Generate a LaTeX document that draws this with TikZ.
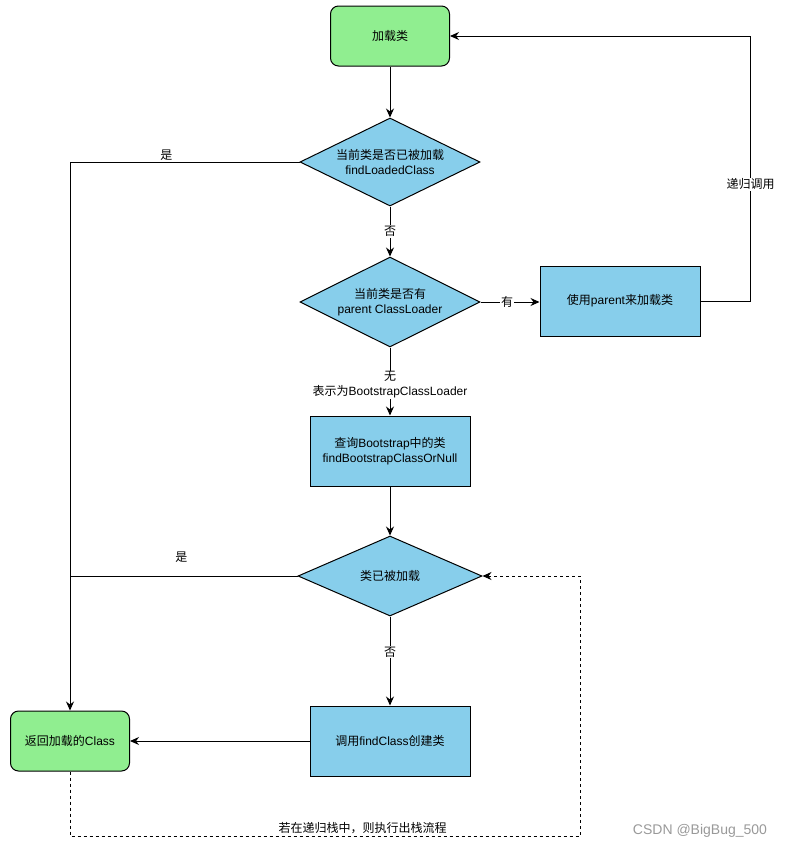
\documentclass[tikz,border=0pt]{standalone}
\usepackage{fontspec}
\setmainfont{Liberation Sans}
\newfontfamily\cjk{Noto Sans CJK SC}
\newcommand{\zh}[1]{{\cjk #1}}
\usetikzlibrary{shapes.geometric,arrows.meta}

\definecolor{boxgreen}{HTML}{90EE90}
\definecolor{boxblue}{HTML}{87CEEB}

\tikzset{
  terminal/.style={rectangle, rounded corners=8pt, draw, line width=1pt, fill=boxgreen, minimum width=119pt, minimum height=60pt, font=\fontsize{12}{15}\selectfont},
  process/.style={rectangle, draw, line width=1pt, fill=boxblue, minimum width=160pt, minimum height=70pt, align=center, font=\fontsize{12}{15}\selectfont},
  decision/.style={diamond, aspect=2, inner sep=0pt, draw, line width=1pt, fill=boxblue, minimum width=180pt, minimum height=88pt, align=center, font=\fontsize{12}{15}\selectfont},
  arrow/.style={-{Stealth[length=9pt,width=8pt]}, line width=1pt},
  lbl/.style={fill=white, inner sep=1pt, align=center, font=\fontsize{12}{15}\selectfont}
}

\begin{document}
\begin{tikzpicture}[x=1pt, y=-1pt]
\useasboundingbox (0,0) rectangle (788,849);

\node (start) at (390,36) [terminal]{\zh{加载类}};
\node (loaded) at (390,162) [decision]{\zh{当前类是否已被加载}\\findLoadedClass};
\node (hasparent) at (390,302) [decision, minimum height=90pt]{\zh{当前类是否有}\\parent ClassLoader};
\node (useparent) at (620,301) [process]{\zh{使用}parent\zh{来加载类}};
\node (bootstrap) at (390,451) [process]{\zh{查询}Bootstrap\zh{中的类}\\findBootstrapClassOrNull};
\node (found) at (390,576) [decision, minimum width=184pt, minimum height=80pt]{\zh{类已被加载}};
\node (findclass) at (390,741) [process]{\zh{调用}findClass\zh{创建类}};
\node (result) at (70,741) [terminal]{\zh{返回加载的}Class};
\coordinate (back) at (580,836);

\draw[arrow] (start) -- (loaded);
\draw[arrow] (loaded) -- node[lbl]{\zh{否}} (hasparent);
\draw[arrow] (hasparent.east) -- node[lbl, pos=0.45]{\zh{有}} (hasparent.east -| useparent.west);
\draw[arrow] (hasparent) -- node[lbl, pos=0.55]{\zh{无}\\\zh{表示为}BootstrapClassLoader} (bootstrap);
\draw[arrow] (bootstrap) -- (found);
\draw[arrow] (found) -- node[lbl, pos=0.4]{\zh{否}} (findclass);
\draw[arrow] (findclass) -- (result);
\draw[arrow] (loaded.west) -| node[lbl, pos=0.29, above=0pt, fill=none]{\zh{是}} (result.north);
\draw[line width=1pt] (found.west) -- node[lbl, pos=0.51, above=12pt, fill=none]{\zh{是}} (found.west -| result.north);
\draw[arrow] (useparent.east) -- ++(50,0) |- node[lbl, pos=0.22]{\zh{递归调用}} (start.east);
\draw[arrow, dash pattern=on 3pt off 3pt] (result.south) |- node[lbl, pos=0.787, above=1pt, fill=none]{\zh{若在递归栈中，则执行出栈流程}} (back) |- (found.east);

\node (mark) at (700,831) [text=gray!80, font=\fontsize{14}{16}\selectfont]{CSDN @BigBug\_500};
\end{tikzpicture}
\end{document}
